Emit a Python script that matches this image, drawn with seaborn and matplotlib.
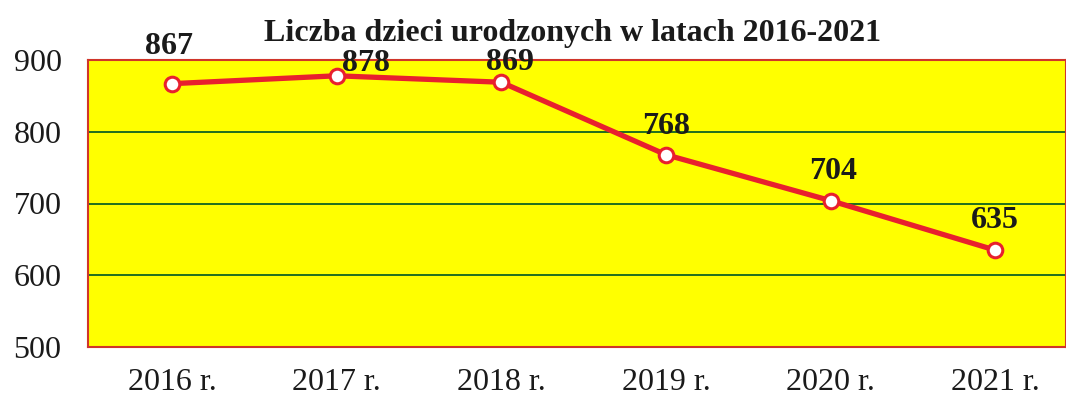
import matplotlib

matplotlib.use("Agg")
import matplotlib.pyplot as plt
import seaborn as sns

years = ["2016 r.", "2017 r.", "2018 r.", "2019 r.", "2020 r.", "2021 r."]
births = [867, 878, 869, 768, 704, 635]
y_ticks = [500, 600, 700, 800, 900]
title = "Liczba dzieci urodzonych w latach 2016-2021"

sns.set_theme(style="white")
plt.rcParams["font.family"] = ["Liberation Serif", "DejaVu Serif"]

fig = plt.figure(figsize=(10.66, 4.03), dpi=100)
ax = fig.add_axes([88 / 1066, 56 / 403, 1 - 88 / 1066, 287 / 403])
ax.set_facecolor("#ffff00")

sns.lineplot(
    x=years,
    y=births,
    color="#e8202e",
    linewidth=3.8,
    marker="o",
    markersize=10.5,
    markerfacecolor="white",
    markeredgecolor="#e8202e",
    markeredgewidth=2.2,
    ax=ax,
    zorder=3,
)

# label offsets in points (dx, dy)
offsets = [(-2, 27), (21, 9), (6, 14), (0, 20), (2, 21), (0, 21)]
for i, (val, off) in enumerate(zip(births, offsets)):
    ax.annotate(
        str(val),
        (i, val),
        xytext=off,
        textcoords="offset points",
        ha="center",
        va="center",
        fontsize=23,
        fontweight="bold",
        color="#1a1a1a",
        zorder=4,
    )

ax.set_ylim(500, 900)
ax.set_xlim(-0.51, 5.43)
ax.set_yticks(y_ticks)
ax.yaxis.grid(True, color="#1f6e1f", linewidth=1.4)
ax.set_axisbelow(True)
ax.tick_params(axis="both", length=0, labelsize=23, colors="#1a1a1a")
ax.tick_params(axis="x", pad=15)
ax.tick_params(axis="y", pad=19)
for spine in ax.spines.values():
    spine.set_color("#d0352a")
    spine.set_linewidth(1.5)

fig.text(573 / 1066, 1 - 33 / 403, title, ha="center", va="center",
         fontsize=23, fontweight="bold", color="#1a1a1a")

fig.savefig("out.png", dpi=100, facecolor="white")
plt.close(fig)
